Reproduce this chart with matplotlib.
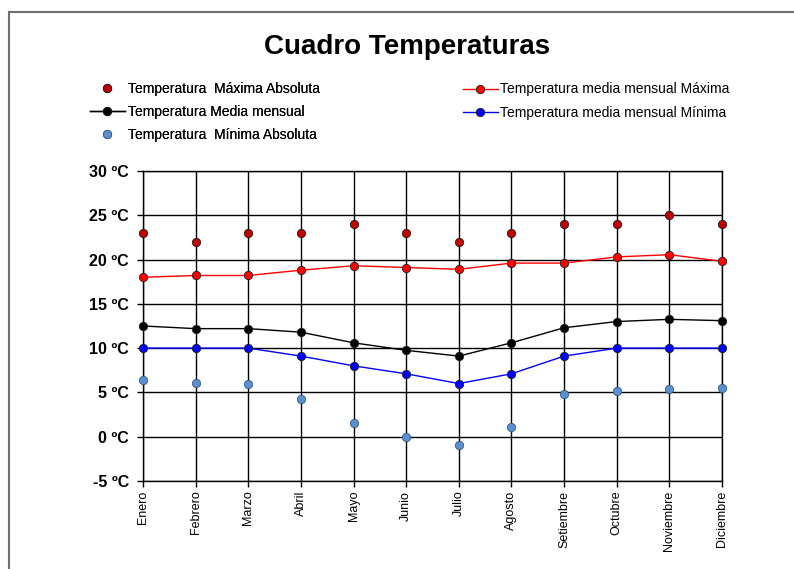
import matplotlib
matplotlib.use('Agg')
import matplotlib.pyplot as plt
from matplotlib.lines import Line2D

plt.rcParams['font.family'] = ['Liberation Sans', 'DejaVu Sans']

meses = ['Enero', 'Febrero', 'Marzo', 'Abril', 'Mayo', 'Junio', 'Julio',
         'Agosto', 'Setiembre', 'Octubre', 'Noviembre', 'Diciembre']

max_abs = [23, 22, 23, 23, 24, 23, 22, 23, 24, 24, 25, 24]
media_max = [18.0, 18.2, 18.2, 18.8, 19.3, 19.1, 18.9, 19.6, 19.6, 20.3, 20.55, 19.8]
media = [12.5, 12.2, 12.2, 11.8, 10.6, 9.75, 9.1, 10.6, 12.3, 13.0, 13.25, 13.1]
media_min = [10, 10, 10, 9.1, 8.0, 7.1, 6.0, 7.1, 9.1, 10, 10, 10]
min_abs = [6.4, 6.1, 6.0, 4.3, 1.5, 0.0, -0.9, 1.1, 4.85, 5.2, 5.4, 5.5]

y_ticks = [-5, 0, 5, 10, 15, 20, 25, 30]

fig = plt.figure(figsize=(7.94, 5.69), dpi=100)
ax = fig.add_axes([0.1801, 0.1547, 0.7292, 0.5448])

x = list(range(len(meses)))
ms = 6
mec = '#202020'

h1, = ax.plot(x, max_abs, 'o', color='#C00000', ms=ms, mec=mec, mew=0.6,
              clip_on=False, zorder=4, label='Temperatura  Máxima Absoluta')
h2, = ax.plot(x, media, '-o', color='black', lw=1, ms=ms, mec=mec, mew=0.6,
              clip_on=False, zorder=4, label='Temperatura Media mensual')
h3, = ax.plot(x, min_abs, 'o', color='#5B8FD0', ms=ms, mec='#3A5A80', mew=0.6,
              clip_on=False, zorder=4, label='Temperatura  Mínima Absoluta')
h4, = ax.plot(x, media_max, '-o', color='red', lw=1, ms=ms, mec=mec, mew=0.6,
              clip_on=False, zorder=4, label='Temperatura media mensual Máxima')
h5, = ax.plot(x, media_min, '-o', color='#0000FF', lw=1, ms=ms, mec=mec, mew=0.6,
              clip_on=False, zorder=4, label='Temperatura media mensual Mínima')

ax.set_xlim(0, 11)
ax.set_ylim(-5, 30)
ax.set_xticks(x)
ax.set_xticklabels(meses, rotation=90, fontsize=9)
ax.set_yticks(y_ticks)
ax.set_yticklabels(['%d ºC' % v for v in y_ticks], fontsize=11.5, fontweight='bold')
ax.grid(True, color='black', lw=1)
ax.set_axisbelow(True)
for s in ax.spines.values():
    s.set_color('black')
    s.set_linewidth(1)
ax.tick_params(direction='out', length=4, color='black', width=1, pad=3)
ax.tick_params(axis='y', pad=6)

fig.text(0.513, 0.917, 'Cuadro Temperaturas', ha='center', va='center',
         fontsize=20, fontweight='bold')

leg_kw = dict(frameon=False, fontsize=10, handlelength=2.5, handletextpad=0.2,
              labelspacing=0.65, borderaxespad=0, borderpad=0, loc='center left')
leg1 = fig.legend(handles=[h1, h2, h3], bbox_to_anchor=(0.1134, 0.8032), **leg_kw)
fig.add_artist(leg1)
fig.legend(handles=[h4, h5], bbox_to_anchor=(0.583, 0.8225), **leg_kw)

# chart frame
fig.add_artist(Line2D([0.011, 1.0], [0.979, 0.979], color='#707070', lw=1.5))
fig.add_artist(Line2D([0.011, 0.011], [0.0, 0.979], color='#707070', lw=1.5))

fig.savefig('out.png', dpi=100)
